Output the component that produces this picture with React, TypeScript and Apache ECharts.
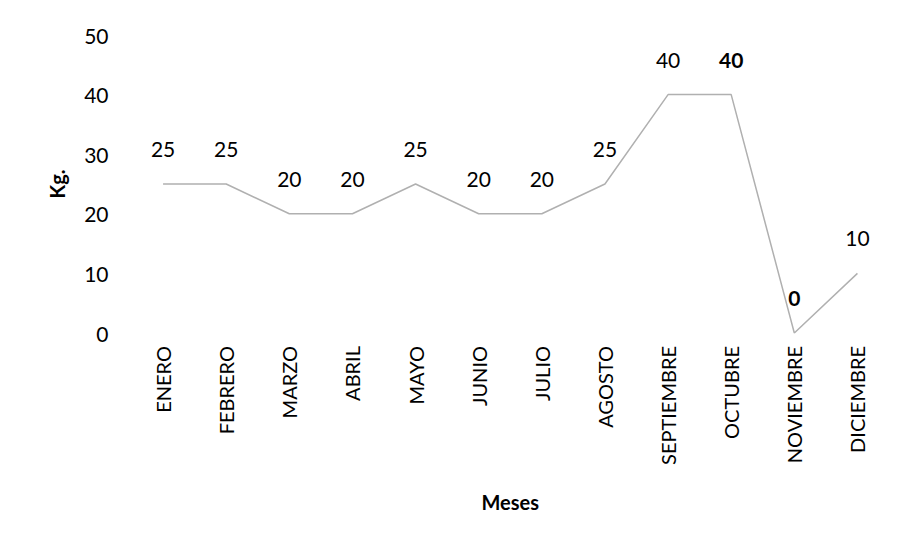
import React, { useEffect, useRef } from "react";
import * as echarts from "echarts";

const months = [
  "ENERO", "FEBRERO", "MARZO", "ABRIL", "MAYO", "JUNIO",
  "JULIO", "AGOSTO", "SEPTIEMBRE", "OCTUBRE", "NOVIEMBRE", "DICIEMBRE",
];
const kgValues = [25, 25, 20, 20, 25, 20, 20, 25, 40, 40, 0, 10];
const boldLabelIndexes = [9, 10];
const yTicks = { min: 0, max: 50, interval: 10 };

const FONT = "Lato, 'Open Sans', sans-serif";

export default function App() {
  const ref = useRef<HTMLDivElement>(null);
  useEffect(() => {
    if (!ref.current) return;
    const chart = echarts.init(ref.current, undefined, { renderer: "svg" });
    chart.setOption({
      animation: false,
      backgroundColor: "#ffffff",
      textStyle: { fontFamily: FONT, color: "#000" },
      grid: { left: 131.5, right: 18, top: 35, bottom: 211, containLabel: false },
      xAxis: {
        type: "category",
        data: months,
        boundaryGap: true,
        axisLine: { show: false },
        axisTick: { show: false },
        axisLabel: {
          rotate: 90,
          margin: 13,
          fontSize: 20,
          color: "#000",
          fontFamily: FONT,
          interval: 0,
        },
        name: "Meses",
        nameLocation: "middle",
        nameGap: 159,
        nameTextStyle: { fontSize: 20, fontWeight: "bold", color: "#000", fontFamily: FONT },
      },
      yAxis: {
        type: "value",
        min: yTicks.min,
        max: yTicks.max,
        interval: yTicks.interval,
        axisLine: { show: false },
        axisTick: { show: false },
        splitLine: { show: false },
        axisLabel: { fontSize: 21, color: "#000", margin: 23, fontFamily: FONT },
        name: "Kg.",
        nameLocation: "middle",
        nameRotate: 90,
        nameGap: 65,
        nameTextStyle: { fontSize: 20, fontWeight: "bold", color: "#000", fontFamily: FONT },
      },
      series: [
        {
          type: "line",
          data: kgValues.map((v, i) =>
            boldLabelIndexes.includes(i)
              ? { value: v, label: { fontWeight: "bold" } }
              : v
          ),
          symbol: "circle",
          symbolSize: 2,
          showSymbol: true,
          itemStyle: { color: "rgba(0,0,0,0)" },
          lineStyle: { color: "#b0b0b0", width: 1.5 },
          label: {
            show: true,
            position: "top",
            distance: 24,
            fontSize: 21,
            color: "#000",
            fontFamily: FONT,
          },
        },
      ],
    });
    return () => chart.dispose();
  }, []);
  return <div ref={ref} style={{ width: 907, height: 544, position: "absolute", left: 0, top: 0 }} />;
}
